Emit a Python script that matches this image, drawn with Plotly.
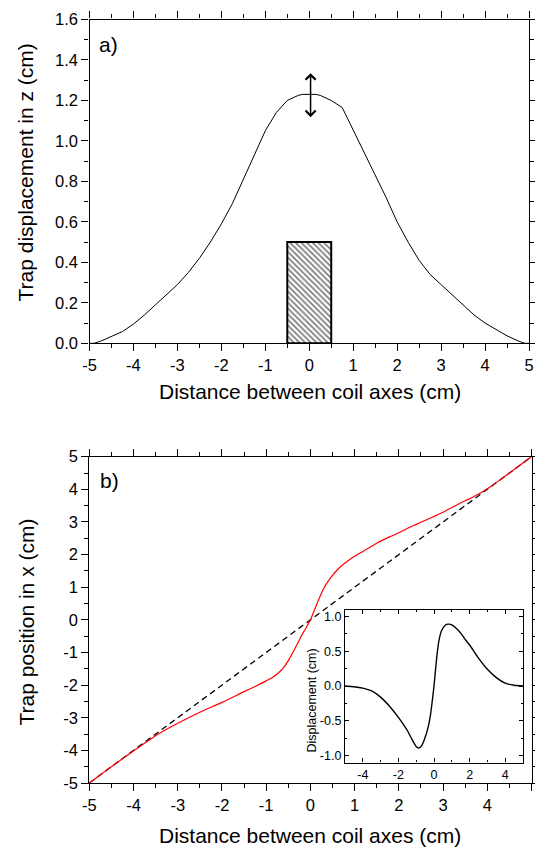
import plotly.graph_objects as go

# ---------------- data ----------------
# panel a) trap displacement in z
top_x = [-5, -4.9, -4.75, -4.5, -4.25, -4.0, -3.75, -3.5, -3.25, -3.0, -2.75, -2.5, -2.25, -2.0,
         -1.75, -1.5, -1.25, -1.0, -0.75, -0.5, -0.25, -0.15, 0, 0.15, 0.25, 0.5, 0.75, 1.0,
         1.25, 1.5, 1.75, 2.0, 2.25, 2.5, 2.75, 3.0, 3.25, 3.5, 3.75, 4.0, 4.25, 4.5, 4.75, 4.9, 5]
top_y = [0.0, 0.0, 0.01, 0.035, 0.058, 0.095, 0.14, 0.19, 0.24, 0.29, 0.35, 0.42, 0.50, 0.59,
         0.69, 0.81, 0.93, 1.05, 1.14, 1.20, 1.225, 1.23, 1.23, 1.23, 1.225, 1.20, 1.165, 1.055,
         0.94, 0.83, 0.72, 0.60, 0.50, 0.41, 0.34, 0.29, 0.24, 0.19, 0.14, 0.10, 0.07, 0.037, 0.012, 0.0, 0.0]

# coil block (hatched rectangle)
coil_x = [0]
coil_h = [0.5]
coil_w = [1.0]

# double arrow (x, y_top, y_bottom)
arrow_x = 0.03
arrow_y = [1.335, 1.11]

# panel b) trap position in x
red_x = [-5, -4.5, -4, -3.5, -3, -2.5, -2, -1.5, -1.25, -1, -0.85, -0.7, -0.6, -0.5, -0.4, -0.3,
         -0.2, -0.1, 0, 0.1, 0.2, 0.3, 0.4, 0.5, 0.6, 0.75, 0.9, 1.0, 1.28, 1.5, 1.8, 2.0, 2.33,
         2.5, 2.86, 3.0, 3.31, 3.5, 3.69, 4.07, 4.44, 5]
red_y = [-5, -4.5, -4.02, -3.55, -3.17, -2.83, -2.53, -2.2, -2.04, -1.87, -1.76, -1.6, -1.45,
         -1.25, -1.01, -0.75, -0.48, -0.25, 0.0, 0.33, 0.66, 0.96, 1.18, 1.36, 1.52, 1.71, 1.86,
         1.95, 2.17, 2.35, 2.55, 2.67, 2.89, 2.99, 3.21, 3.3, 3.52, 3.65, 3.77, 4.08, 4.44, 5]

diag_x = [-5, 5]
diag_y = [-5, 5]

# inset: displacement
ins_x = [-5, -4.5, -4, -3.5, -3, -2.5, -2, -1.75, -1.5, -1.25, -1.1, -1.0, -0.9, -0.8, -0.7,
         -0.6, -0.5, -0.4, -0.3, -0.2, -0.1, 0, 0.1, 0.2, 0.3, 0.4, 0.55, 0.7, 0.85, 1.0, 1.25,
         1.5, 1.75, 2.0, 2.5, 3.0, 3.5, 4.0, 4.5, 5]
ins_y = [0, -0.01, -0.03, -0.07, -0.16, -0.29, -0.45, -0.54, -0.64, -0.76, -0.83, -0.87, -0.89,
         -0.885, -0.86, -0.81, -0.74, -0.66, -0.56, -0.42, -0.22, 0, 0.27, 0.52, 0.68, 0.78,
         0.85, 0.885, 0.89, 0.88, 0.83, 0.76, 0.67, 0.59, 0.40, 0.24, 0.12, 0.04, 0.01, 0]

# tick labels
xt_vals = [-5, -4, -3, -2, -1, 0, 1, 2, 3, 4, 5]
xt_text = ["-5", "-4", "-3", "-2", "-1", "0", "1", "2", "3", "4", "5"]
ya_vals = [0.0, 0.2, 0.4, 0.6, 0.8, 1.0, 1.2, 1.4, 1.6]
ya_text = ["0.0", "0.2", "0.4", "0.6", "0.8", "1.0", "1.2", "1.4", "1.6"]
yb_vals = [-5, -4, -3, -2, -1, 0, 1, 2, 3, 4, 5]
yb_text = ["-5", "-4", "-3", "-2", "-1", "0", "1", "2", "3", "4", "5"]
xi_vals = [-4, -2, 0, 2, 4]
xi_text = ["-4", "-2", "0", "2", "4"]
yi_vals = [-1.0, -0.5, 0.0, 0.5, 1.0]
yi_text = ["-1.0", "-0.5", "0.0", "0.5", "1.0"]

# ---------------- layout helpers ----------------
W, H = 535, 848
FONT = "Liberation Sans, Arial, Helvetica, sans-serif"


def px(x):
    return x / W


def py(y):
    return 1 - y / H


fig = go.Figure()

fig.add_trace(go.Bar(x=coil_x, y=coil_h, width=coil_w, xaxis="x", yaxis="y",
                     marker=dict(color="white", line=dict(color="black", width=2),
                                 pattern=dict(shape="\\", fgcolor="black", bgcolor="white",
                                              size=4, solidity=0.45)),
                     showlegend=False))
fig.add_trace(go.Scatter(x=top_x, y=top_y, mode="lines", xaxis="x", yaxis="y",
                         line=dict(color="black", width=1), showlegend=False))

fig.add_trace(go.Scatter(x=diag_x, y=diag_y, mode="lines", xaxis="x2", yaxis="y2",
                         line=dict(color="black", width=1.3, dash="6px,4px"), showlegend=False))
fig.add_trace(go.Scatter(x=red_x, y=red_y, mode="lines", xaxis="x2", yaxis="y2",
                         line=dict(color="#ff0000", width=1.2, shape="spline", smoothing=0.7),
                         showlegend=False))

fig.add_trace(go.Scatter(x=ins_x, y=ins_y, mode="lines", xaxis="x3", yaxis="y3",
                         line=dict(color="black", width=1.4, shape="spline", smoothing=0.7),
                         showlegend=False))

axis_common = dict(showline=True, linecolor="black", linewidth=1.3, mirror="ticks",
                   ticks="outside", ticklen=7, tickwidth=1.3, tickcolor="black",
                   showgrid=False, zeroline=False, automargin=False,
                   tickfont=dict(family=FONT, size=16.5, color="black"))
inset_common = dict(showline=True, linecolor="black", linewidth=1.3, mirror="ticks",
                    ticks="inside", ticklen=4, tickwidth=1, tickcolor="black",
                    showgrid=False, zeroline=False, automargin=False,
                    tickfont=dict(family=FONT, size=12.5, color="black"))

fig.update_layout(
    width=W, height=H, autosize=False,
    margin=dict(l=0, r=0, t=0, b=0),
    paper_bgcolor="white", plot_bgcolor="white",
    font=dict(family=FONT, color="black"),
    barmode="overlay",
    xaxis=dict(axis_common, domain=[px(89.5), px(529)], range=[-5, 5], anchor="y",
               tickvals=xt_vals, ticktext=xt_text,
               minor=dict(dtick=0.5, ticklen=4, ticks="outside", tickcolor="black")),
    yaxis=dict(axis_common, domain=[py(343.3), py(19.5)], range=[0, 1.6], anchor="x",
               tickvals=ya_vals, ticktext=ya_text,
               minor=dict(dtick=0.1, ticklen=4, ticks="outside", tickcolor="black")),
    xaxis2=dict(axis_common, domain=[px(89.3), px(531.5)], range=[-5, 5], anchor="y2",
                tickvals=xt_vals, ticktext=xt_text,
                minor=dict(dtick=0.5, ticklen=4, ticks="outside", tickcolor="black")),
    yaxis2=dict(axis_common, domain=[py(783), py(456.7)], range=[-5, 5], anchor="x2",
                tickvals=yb_vals, ticktext=yb_text,
                minor=dict(dtick=0.5, ticklen=4, ticks="outside", tickcolor="black")),
    xaxis3=dict(inset_common, domain=[px(345), px(523)], range=[-5, 5], anchor="y3",
                tickvals=xi_vals, ticktext=xi_text,
                minor=dict(dtick=1, ticklen=2, ticks="inside", tickcolor="black")),
    yaxis3=dict(inset_common, domain=[py(762.5), py(609.5)], range=[-1.1, 1.1], anchor="x3",
                tickvals=yi_vals, ticktext=yi_text,
                minor=dict(dtick=0.25, ticklen=2, ticks="inside", tickcolor="black")),
)

ann = []
tfont = dict(family=FONT, size=21, color="black")
ann.append(dict(text="Distance between coil axes (cm)", x=px(309.5), y=py(391), xref="paper",
                yref="paper", showarrow=False, xanchor="center", yanchor="middle", font=tfont))
ann.append(dict(text="Distance between coil axes (cm)", x=px(309.5), y=py(835), xref="paper",
                yref="paper", showarrow=False, xanchor="center", yanchor="middle", font=tfont))
ann.append(dict(text="Trap displacement in z (cm)", x=px(25.5), y=py(173), xref="paper",
                yref="paper", showarrow=False, xanchor="center", yanchor="middle",
                textangle=-90, font=tfont))
ann.append(dict(text="Trap position in x (cm)", x=px(25.5), y=py(622), xref="paper",
                yref="paper", showarrow=False, xanchor="center", yanchor="middle",
                textangle=-90, font=tfont))
ann.append(dict(text="Displacement (cm)", x=px(311.5), y=py(701), xref="paper",
                yref="paper", showarrow=False, xanchor="center", yanchor="middle",
                textangle=-90, font=dict(family=FONT, size=12.5, color="black")))
ann.append(dict(text="a)", x=px(108), y=py(44), xref="paper", yref="paper", showarrow=False,
                xanchor="center", yanchor="middle", font=tfont))
ann.append(dict(text="b)", x=px(109), y=py(480), xref="paper", yref="paper", showarrow=False,
                xanchor="center", yanchor="middle", font=tfont))
# double-headed arrow in panel a
ann.append(dict(text="", x=arrow_x, y=arrow_y[0], ax=arrow_x, ay=arrow_y[1], xref="x", yref="y",
                axref="x", ayref="y", showarrow=True, arrowhead=4, startarrowhead=4,
                arrowside="end+start", arrowsize=1.3, startarrowsize=1.3, arrowwidth=1.5,
                arrowcolor="black", standoff=0, startstandoff=0))
fig.update_layout(annotations=ann)

fig.write_html("out.html", config={"displayModeBar": False},
               post_script="document.body.style.margin='0px';")
